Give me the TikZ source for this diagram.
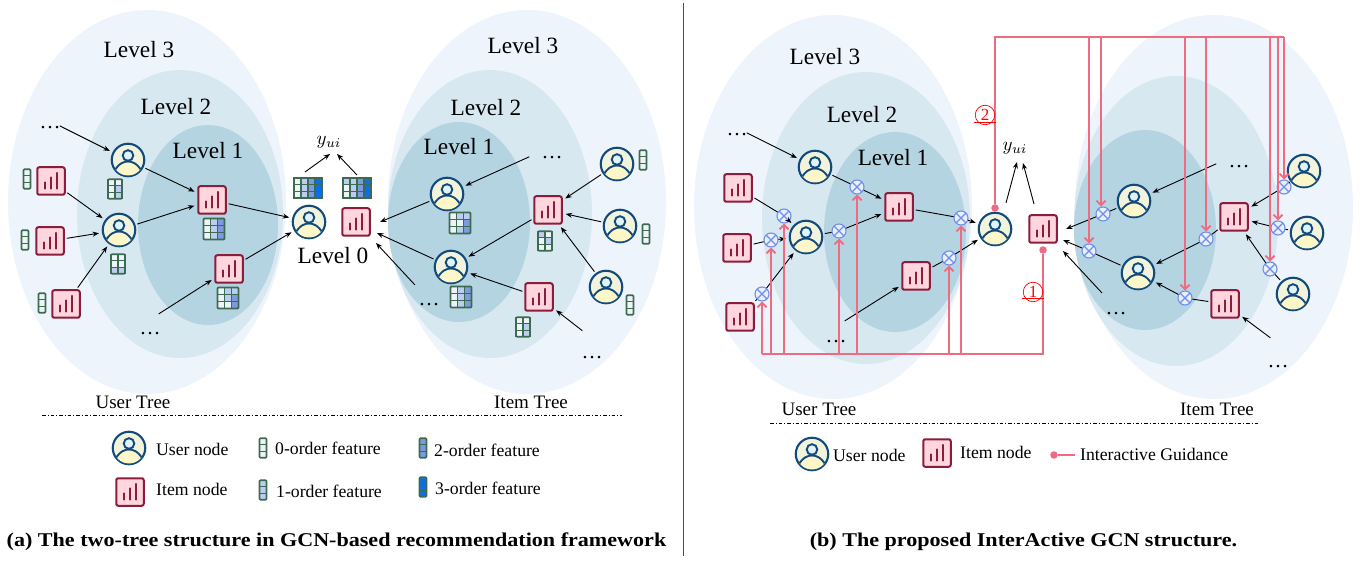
\documentclass[tikz,border=0pt]{standalone}
\usepackage{fontspec}
\usepackage{graphicx}
\setmainfont{Liberation Serif}
\usetikzlibrary{arrows.meta,calc}
\definecolor{outerc}{HTML}{EEF4FB}
\definecolor{midc}{HTML}{D8E8F1}
\definecolor{innerc}{HTML}{B5D4E2}
\definecolor{userb}{HTML}{134A7C}
\definecolor{userf}{HTML}{FDF6C8}
\definecolor{usert}{HTML}{F1F3DC}
\definecolor{headf}{HTML}{DFF3FB}
\definecolor{itemb}{HTML}{8C1C3C}
\definecolor{itemf}{HTML}{FFD6DE}
\definecolor{featg}{HTML}{3D6B52}
\definecolor{fw}{HTML}{EEF3F6}
\definecolor{fl}{HTML}{BCCDF2}
\definecolor{fm}{HTML}{7D9AE0}
\definecolor{fb}{HTML}{0A6FE8}
\definecolor{guide}{HTML}{EE6B82}
\definecolor{xb}{HTML}{6F8FE8}
\definecolor{xf}{HTML}{E9EFFC}
\tikzset{
  ell1/.style={fill=outerc},
  ell2/.style={fill=midc},
  ell3/.style={fill=innerc},
  usershape/.style={circle,draw=userb,line width=2.1pt,fill=usert,minimum size=32.5pt,inner sep=0pt,outer sep=1pt},
  itemshape/.style={rectangle,rounded corners=2pt,draw=itemb,line width=2pt,fill=itemf,minimum size=27.5pt,inner sep=0pt,outer sep=1pt},
  xshape/.style={circle,draw=xb,line width=1.1pt,fill=xf,minimum size=14pt,inner sep=0pt,outer sep=0.5pt},
  featnode/.style={rectangle,inner sep=0pt,outer sep=0pt,draw=featg,line width=1.7pt,rounded corners=1pt},
  cell/.style={draw=featg,line width=1.2pt},
  arr/.style={-{Stealth[length=6.5pt,width=5pt]},line width=0.9pt,shorten >=3pt,shorten <=2pt},
  arrx/.style={-{Stealth[length=6.5pt,width=5pt]},line width=0.9pt,shorten >=3pt},
  arrfree/.style={-{Stealth[length=6.5pt,width=5pt]},line width=0.9pt},
  lnk/.style={line width=0.9pt,shorten <=2pt},
  guideline/.style={draw=guide,line width=2pt},
  guidearrow/.style={guideline,-{Straight Barb[length=4.5pt,width=9pt,line width=1.8pt]}},
  guidedot/.style={circle,fill=guide,minimum size=7.5pt,inner sep=0pt},
  lv/.style={font=\fontsize{23.3}{26}\selectfont,inner sep=0pt},
  dotsn/.style={font=\fontsize{21}{24}\selectfont,inner sep=0pt,anchor=base},
  treelab/.style={font=\fontsize{19}{21}\selectfont,inner sep=0pt},
  leg/.style={font=\fontsize{17.7}{20}\selectfont,inner sep=0pt,anchor=west},
  yui/.style={inner sep=0pt},
  captext/.style={font=\fontsize{19.5}{22}\selectfont\bfseries,inner sep=0pt},
  redc/.style={circle,draw=red,line width=0.7pt,text=red,minimum size=19.5pt,inner sep=0pt,font=\fontsize{17}{18}\selectfont},
  redu/.style={draw=red,line width=0.8pt},
  sepline/.style={line width=0.9pt,dash pattern=on 3.5pt off 2pt on 1pt off 2pt},
  divider/.style={draw=black!70,line width=1pt},
}
\newcommand\yuilabel{\scalebox{1.9}{$y_{ui}$}}
\newcommand\usernode[3]{%
  \node[usershape] (#1) at (#2,#3) {};
  \begin{scope}
    \clip (#2,#3) circle (15.5);
    \begin{scope}[shift={(#2,#3)}]
      \draw[userb,fill=userf,line width=1.9pt] (-14,11.5) .. controls (-9,3) and (-4,1.5) .. (0,1.5) .. controls (4,1.5) and (9,3) .. (14,11.5) -- (14,20) -- (-14,20) -- cycle;
      \draw[userb,fill=headf,line width=1.9pt] (0,-4.5) circle (5.3);
    \end{scope}
  \end{scope}
}
\newcommand\itemnode[3]{%
  \node[itemshape] (#1) at (#2,#3) {};
  \begin{scope}[shift={(#2,#3)}]
    \draw[itemb,line width=2.2pt,line cap=round] (-6,7.5) -- (-6,1.5) (0,7.5) -- (0,-3.5) (6,7.5) -- (6,-8);
  \end{scope}
}
\newcommand\xnode[3]{%
  \node[xshape] (#1) at (#2,#3) {};
  \draw[xb,line width=1.1pt] (#2-4.8,#3-4.8) -- (#2+4.8,#3+4.8) (#2-4.8,#3+4.8) -- (#2+4.8,#3-4.8);
}
% name,x,y,cols,cellw,cellh,colours
\newcommand\feat[7]{%
  \begin{scope}[shift={(#2,#3)}]
    \foreach \cc [count=\ci from 0] in {#7}{
      \pgfmathtruncatemacro\cx{mod(\ci,#4)}
      \pgfmathtruncatemacro\cy{floor(\ci/#4)}
      \path[cell,fill=\cc] ({(\cx-#4/2)*#5},{(\cy-1.5)*#6}) rectangle ++(#5,#6);
    }
  \end{scope}
  \node[featnode,minimum width={#4*#5 pt},minimum height={3*#6 pt}] (#1) at (#2,#3) {};
}
\newcommand\featv[4]{\feat{#1}{#2}{#3}{1}{7}{6.5}{#4,#4,#4}}
\begin{document}
\begin{tikzpicture}[x=1pt,y=-1pt]
\useasboundingbox (0,0) rectangle (1369,561);
% ---------- ellipses
\fill[ell1] (147,202) ellipse [x radius=139,y radius=192];
\fill[ell1] (527,202) ellipse [x radius=139,y radius=192];
\fill[ell2] (180,214) ellipse [x radius=103,y radius=144];
\fill[ell2] (490,214) ellipse [x radius=102,y radius=144];
\fill[ell3] (208,225) ellipse [x radius=70,y radius=100];
\fill[ell3] (459,222) ellipse [x radius=71,y radius=100];
\fill[ell1] (833,207) ellipse [x radius=139,y radius=192];
\fill[ell1] (1214,207) ellipse [x radius=139,y radius=192];
\fill[ell2] (866,218) ellipse [x radius=104,y radius=146];
\fill[ell2] (1176,221) ellipse [x radius=102,y radius=145];
\fill[ell3] (895,232) ellipse [x radius=71,y radius=100];
\fill[ell3] (1145,230) ellipse [x radius=71,y radius=100];
% ---------- level labels
\node[lv] (la3) at (139,50) {Level 3};
\node[lv] (la2) at (176,107) {Level 2};
\node[lv] (la1) at (208,151) {Level 1};
\node[lv] (la0) at (333,256) {Level 0};
\node[lv] (ra3) at (523,46) {Level 3};
\node[lv] (ra2) at (486,108) {Level 2};
\node[lv] (ra1) at (459,147) {Level 1};
\node[lv] (lb3) at (825,57) {Level 3};
\node[lv] (lb2) at (862,115) {Level 2};
\node[lv] (lb1) at (893,158) {Level 1};
% ---------- panel a nodes
\usernode{au1}{128}{160}
\usernode{au2}{119}{230}
\usernode{au0}{309}{222}
\itemnode{ai1}{51}{181}
\itemnode{ai2}{50}{241}
\itemnode{ai3}{66}{304}
\itemnode{ai4}{212}{200}
\itemnode{ai5}{229}{269}
\itemnode{ai0}{356}{222}
\usernode{aru1}{447}{194}
\usernode{aru2}{451}{267}
\usernode{aru3}{617}{164}
\usernode{aru4}{620}{226}
\usernode{aru5}{606}{287}
\itemnode{ari1}{548}{210}
\itemnode{ari2}{539}{297}
% features a
\featv{af1}{27}{179}{fw}
\featv{af2}{25}{240}{fw}
\featv{af3}{42}{303}{fw}
\featv{af4}{643}{160}{fw}
\featv{af5}{646}{234}{fw}
\featv{af6}{630}{305}{fw}
\feat{ag1}{115}{189}{2}{7}{6.5}{fw,fw,fw,fl,fw,fl}
\feat{ag2}{118}{264}{2}{7}{6.5}{fw,fw,fw,fw,fl,fl}
\feat{ag3}{545}{241}{2}{7}{6.5}{fl,fw,fw,fl,fw,fw}
\feat{ag4}{523}{327}{2}{7}{6.5}{fw,fw,fw,fl,fw,fl}
\feat{ah1}{214}{229}{3}{7}{7}{fw,fl,fm,fw,fl,fm,fw,fl,fm}
\feat{ah2}{228}{298}{3}{7}{7}{fw,fl,fl,fw,fl,fm,fw,fw,fm}
\feat{ah3}{460}{223}{3}{7}{7}{fw,fl,fl,fw,fw,fm,fw,fl,fm}
\feat{ah4}{461}{297}{3}{7}{7}{fw,fl,fm,fw,fl,fm,fw,fl,fm}
\feat{ga}{308}{188}{4}{7}{6.7}{fw,fl,fm,fb,fw,fl,fm,fb,fw,fl,fm,fb}
\feat{gb}{357}{188}{4}{7}{6.7}{fl,fl,fm,fb,fw,fl,fm,fb,fw,fl,fm,fb}
\node[yui] (ya) at (329,142) {\yuilabel};
% free ends a
\coordinate (af-a) at (58,125);
\coordinate (af-b) at (157,315);
\coordinate (af-c) at (415,285);
\coordinate (af-d) at (531,156);
\coordinate (af-e) at (584,332);
\node[dotsn] (ad1) at (50,129) {…};
\node[dotsn] (ad2) at (150,335) {…};
\node[dotsn] (ad3) at (429,306) {…};
\node[dotsn] (ad4) at (552,159) {…};
\node[dotsn] (ad5) at (592,359) {…};
% connectors a
\draw[arr] (af-a) -- (au1);
\draw[arr] (au1) -- (ai4);
\draw[arr] (ai1) -- (au2);
\draw[arr] (ai2) -- (au2);
\draw[arr] (ai3) -- (au2);
\draw[arr] (au2) -- (ai4);
\draw[arr] (ai4) -- (au0);
\draw[arr] (ai5) -- (au0);
\draw[arr] (af-b) -- (ai5);
\draw[arrfree] ([shift={(-3,-16)}]ga.center) -- ([shift={(1,12)}]ya.center);
\draw[arrfree] ([shift={(0,-13)}]gb.center) -- ([shift={(8,12)}]ya.center);
\draw[arrfree,shorten <=2pt] (aru1) -- ([shift={(24,0)}]ai0.center);
\draw[arrfree,shorten <=2pt] (aru2) -- ([shift={(21,11)}]ai0.center);
\draw[arrfree] (af-c) -- ([shift={(20,21)}]ai0.center);
\draw[arr] (af-d) -- (aru1);
\draw[arr] (ari1) -- (aru2);
\draw[arr] (ari2) -- (aru2);
\draw[arr] (aru3) -- (ari1);
\draw[arr] (aru4) -- (ari1);
\draw[arr] (aru5) -- (ari1);
\draw[arr] (af-e) -- (ari2);
% ---------- panel b nodes
\usernode{bu1}{815}{167}
\usernode{bu2}{806}{237}
\usernode{bu0}{995}{229}
\itemnode{bi1}{738}{188}
\itemnode{bi2}{737}{248}
\itemnode{bi3}{740}{317}
\itemnode{bi4}{899}{207}
\itemnode{bi5}{916}{276}
\itemnode{bi0}{1043}{229}
\usernode{bru1}{1134}{201}
\usernode{bru2}{1138}{273}
\usernode{bru3}{1304}{171}
\usernode{bru4}{1307}{233}
\usernode{bru5}{1293}{294}
\itemnode{bri1}{1234}{217}
\itemnode{bri2}{1225}{304}
\node[yui] (yb) at (1015,148) {\yuilabel};
\xnode{x1}{762}{294}
\xnode{x2}{771}{240}
\xnode{x3}{784}{216}
\xnode{x4}{839}{231}
\xnode{x5}{857}{187}
\xnode{x6}{949}{258}
\xnode{x7}{961}{218}
\xnode{y1}{1089}{251}
\xnode{y2}{1103}{214}
\xnode{y3}{1185}{298}
\xnode{y4}{1206}{239}
\xnode{y5}{1270}{269}
\xnode{y6}{1278}{228}
\xnode{y7}{1284}{187}
% free ends b
\coordinate (bf-a) at (745,132);
\coordinate (bf-b) at (843,322);
\coordinate (bf-c) at (1218,163);
\coordinate (bf-d) at (1102,293);
\coordinate (bf-e) at (1272,339);
\node[dotsn] (bd1) at (737,136) {…};
\node[dotsn] (bd2) at (836,343) {…};
\node[dotsn] (bd3) at (1239,168) {…};
\node[dotsn] (bd4) at (1116,315) {…};
\node[dotsn] (bd5) at (1278,368) {…};
% connectors b
\draw[arr] (bf-a) -- (bu1);
\draw[lnk] (bu1) -- (x5);
\draw[arrx] (x5) -- (bi4);
\draw[lnk] (bi1) -- (x3);
\draw[arrx] (x3) -- (bu2);
\draw[lnk] (bi2) -- (x2);
\draw[arrx] (x2) -- (bu2);
\draw[lnk] (bi3) -- (x1);
\draw[arrx] (x1) -- (bu2);
\draw[lnk] (bu2) -- (x4);
\draw[arrx] (x4) -- (bi4);
\draw[lnk] (bi4) -- (x7);
\draw[arrx] (x7) -- (bu0);
\draw[lnk] (bi5) -- (x6);
\draw[arrx] (x6) -- (bu0);
\draw[arr] (bf-b) -- (bi5);
\draw[arrfree] ([shift={(11,-26)}]bu0.center) -- ([shift={(2,14)}]yb.center);
\draw[arrfree] ([shift={(-9,-25)}]bi0.center) -- ([shift={(8,15)}]yb.center);
\draw[arr] (bf-c) -- (bru1);
\draw[lnk] (bru1) -- (y2);
\draw[arrfree] (y2) -- ([shift={(23,0)}]bi0.center);
\draw[lnk] (bru2) -- (y1);
\draw[arrfree] (y1) -- ([shift={(20,11)}]bi0.center);
\draw[arrfree] (bf-d) -- ([shift={(20,22)}]bi0.center);
\draw[lnk] (bri1) -- (y4);
\draw[arrx] (y4) -- (bru2);
\draw[lnk] (bri2) -- (y3);
\draw[arrx] (y3) -- (bru2);
\draw[lnk] (bru3) -- (y7);
\draw[arrx] (y7) -- (bri1);
\draw[lnk] (bru4) -- (y6);
\draw[arrx] (y6) -- (bri1);
\draw[lnk] (bru5) -- (y5);
\draw[arrx] (y5) -- (bri1);
\draw[arr] (bf-e) -- (bri2);
% ---------- guidance
\node[guidedot] (dot1) at (1043,250) {};
\node[guidedot] (dot2) at (995,208) {};
\coordinate (bbus) at (762,354);
\coordinate (tbus) at (1284,37);
\draw[guideline] (dot1) |- (bbus);
\draw[guideline] (dot2) |- (tbus);
\foreach \n in {x1,x2,x3,x4,x5,x6,x7}{
  \draw[guidearrow] (\n.south |- bbus) -- (\n.south);
}
\foreach \n in {y1,y3,y4,y5,y6,y7}{
  \draw[guidearrow] (\n.north |- tbus) -- (\n.north);
}
\draw[guidearrow] ([xshift=-2pt]y2.north |- tbus) -- ([xshift=-2pt]y2.north);
\node[redc] (c2) at (985,115) {2};
\draw[redu] ([shift={(-11,7)}]c2.center) -- ([shift={(11,7)}]c2.center);
\node[redc] (c1) at (1033,292) {1};
\draw[redu] ([shift={(-11,6)}]c1.center) -- ([shift={(11,6)}]c1.center);
% ---------- tree labels and separators
\node[treelab] (ta) at (133,402) {User Tree};
\node[treelab] (tb) at (531,402) {Item Tree};
\node[treelab] (tc) at (819,409) {User Tree};
\node[treelab] (td) at (1217,409) {Item Tree};
\coordinate (sa1) at (42,415);
\coordinate (sa2) at (622,415);
\coordinate (sb1) at (770,423);
\coordinate (sb2) at (1260,423);
\draw[sepline] (sa1) -- (sa2);
\draw[sepline] (sb1) -- (sb2);
% ---------- legend a
\usernode{lu1}{129}{448}
\itemnode{li1}{130}{492}
\node[leg] (lt1) at (156,449) {User node};
\node[leg] (lt2) at (156,489) {Item node};
\featv{lf0}{263}{448}{fw}
\featv{lf1}{263}{490}{fl}
\featv{lf2}{423}{448}{fm}
\featv{lf3}{423}{487}{fb}
\node[leg] (lt3) at (275,448) {0-order feature};
\node[leg] (lt4) at (276,491) {1-order feature};
\node[leg] (lt5) at (434,450) {2-order feature};
\node[leg] (lt6) at (435,488) {3-order feature};
% ---------- legend b
\usernode{lu2}{812}{454}
\itemnode{li2}{937}{453}
\node[leg] (lt7) at (833,455) {User node};
\node[leg] (lt8) at (960,452) {Item node};
\node[guidedot] (ldot) at (1054,455) {};
\coordinate (lend) at (1075,455);
\draw[guideline] (ldot) -- (lend);
\node[leg] (lt9) at (1080,454) {Interactive Guidance};
% ---------- divider, captions
\coordinate (dv1) at (683,3);
\coordinate (dv2) at (683,556);
\draw[divider] (dv1) -- (dv2);
\node[captext] (capa) at (336.5,542) {\scalebox{1.133}[1]{(a) The two-tree structure in GCN-based recommendation framework}};
\node[captext] (capb) at (1023.5,542) {\scalebox{1.133}[1]{(b) The proposed InterActive GCN structure.}};
\end{tikzpicture}
\end{document}
